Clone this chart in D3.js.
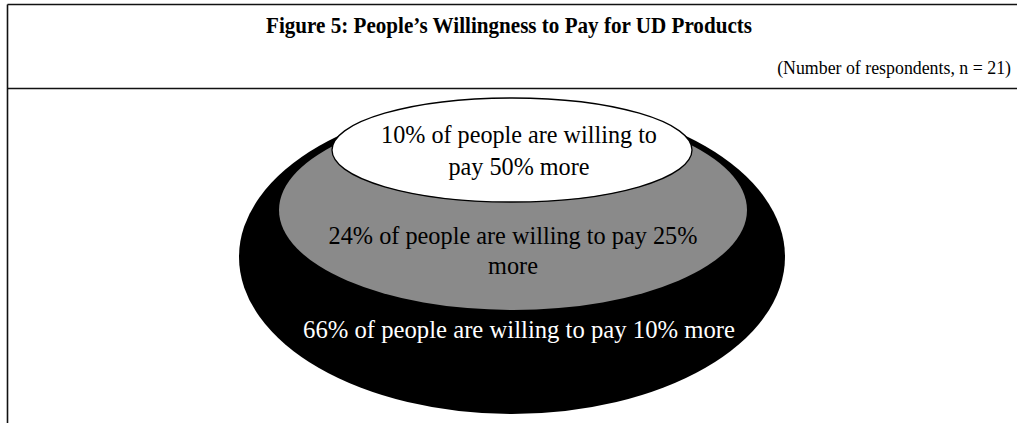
<!DOCTYPE html>
<html>
<head>
<meta charset="utf-8">
<script src="https://cdn.jsdelivr.net/npm/d3@7/dist/d3.min.js"></script>
<style>
  html, body { margin: 0; padding: 0; background: #fff; }
  svg { display: block; }
</style>
</head>
<body>
<svg id="chart" width="1017" height="423"></svg>
<script>
// Figure title and note
const titleText = "Figure 5: People\u2019s Willingness to Pay for UD Products";
const noteText = "(Number of respondents, n = 21)";

// Share of respondents per price-premium group (outermost first)
const shares = [66, 24, 10];
const premiums = [10, 25, 50];
// Label lines as wrapped in the figure
const labelLines = [
  ["66% of people are willing to pay 10% more"],
  ["24% of people are willing to pay 25%", "more"],
  ["10% of people are willing to", "pay 50% more"]
];

// Layout of the nested ellipses (outer to inner)
const layout = [
  { cx: 512, cy: 257, rx: 273, ry: 157, fill: "#000000", stroke: "none", text: "#ffffff",
    lineX: 519, baselines: [338], widths: [432] },
  { cx: 513, cy: 210, rx: 234, ry: 100, fill: "#8a8a8a", stroke: "none", text: "#000000",
    lineX: 513, baselines: [244, 274], widths: [369, null] },
  { cx: 512, cy: 150, rx: 180, ry: 52, fill: "#ffffff", stroke: "#000000", text: "#000000",
    lineX: 519, baselines: [143, 175], widths: [276, null] }
];

const svg = d3.select("#chart");
const serif = "'Liberation Serif', 'Times New Roman', serif";

// Frame: top rule, divider under the heading, left rule
const frame = svg.append("g").attr("stroke", "#111").attr("stroke-width", 1.6).attr("fill", "none");
frame.append("line").attr("x1", 7.5).attr("x2", 1017).attr("y1", 4.5).attr("y2", 4.5);
frame.append("line").attr("x1", 7.5).attr("x2", 1017).attr("y1", 88.5).attr("y2", 88.5);
frame.append("line").attr("x1", 7.5).attr("x2", 7.5).attr("y1", 4.5).attr("y2", 423);

// Fit a text element's font size to a target width
function fitWidth(sel, target, base) {
  sel.attr("font-size", base);
  const w = sel.node().getComputedTextLength();
  const size = base * target / w;
  sel.attr("font-size", size);
  return size;
}

// Heading, slightly condensed to its set width
svg.append("text")
  .attr("x", 509).attr("y", 33)
  .attr("text-anchor", "middle")
  .attr("font-family", serif).attr("font-weight", "bold")
  .attr("font-size", 23.5)
  .attr("textLength", 486).attr("lengthAdjust", "spacingAndGlyphs")
  .attr("fill", "#000")
  .text(titleText);

const note = svg.append("text")
  .attr("x", 1011).attr("y", 74)
  .attr("text-anchor", "end")
  .attr("font-family", serif)
  .attr("fill", "#000")
  .text(noteText);
fitWidth(note, 234, 18);

// Groups bound to the data, drawn outer to inner
const groups = shares.map((s, i) => ({ share: s, premium: premiums[i], lines: labelLines[i], geo: layout[i] }));

const layers = svg.append("g").selectAll("g.layer")
  .data(groups)
  .join("g")
  .attr("class", "layer");

layers.append("ellipse")
  .attr("cx", d => d.geo.cx)
  .attr("cy", d => d.geo.cy)
  .attr("rx", d => d.geo.rx)
  .attr("ry", d => d.geo.ry)
  .attr("fill", d => d.geo.fill)
  .attr("stroke", d => d.geo.stroke)
  .attr("stroke-width", 1.3);

// Labels: the first line of each group sets the font size for its lines
layers.each(function(d) {
  const g = d3.select(this);
  let size = 24.5;
  d.lines.forEach((line, j) => {
    const t = g.append("text")
      .attr("x", d.geo.lineX)
      .attr("y", d.geo.baselines[j])
      .attr("text-anchor", "middle")
      .attr("font-family", serif)
      .attr("fill", d.geo.text)
      .text(line);
    if (j === 0 && d.geo.widths[0]) size = fitWidth(t, d.geo.widths[0], 24.5);
    else t.attr("font-size", size);
  });
});
</script>
</body>
</html>
